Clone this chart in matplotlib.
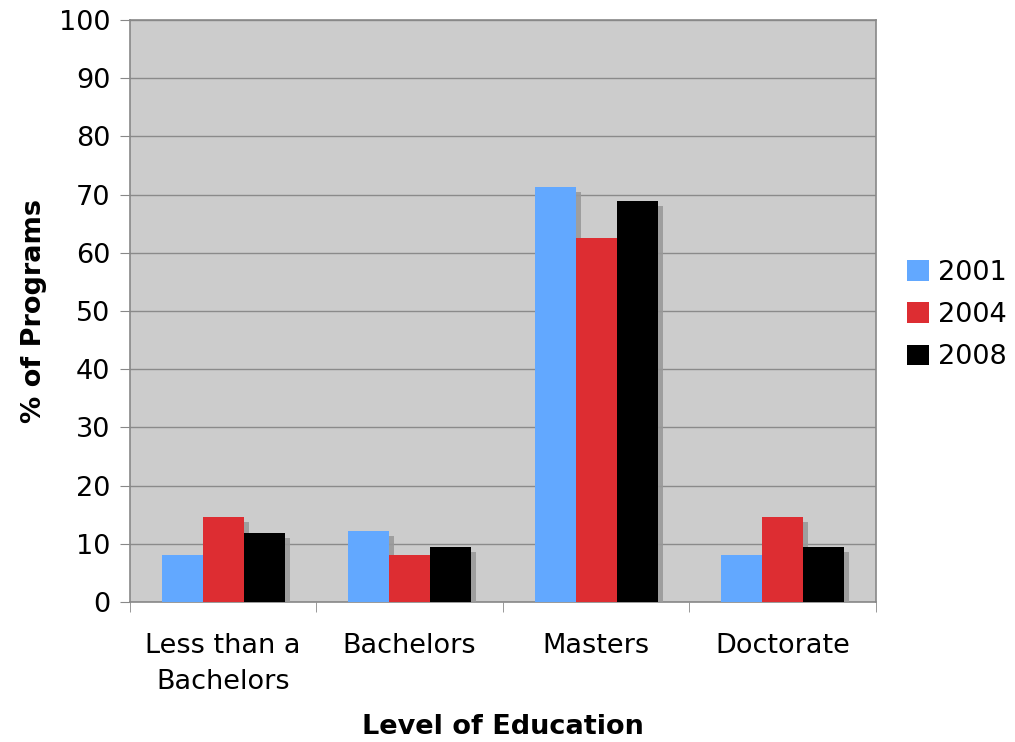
import matplotlib.pyplot as plt
import matplotlib.patheffects as pe
from matplotlib.patches import Patch
import numpy as np

categories = ["Less than a\nBachelors", "Bachelors", "Masters", "Doctorate"]
years = ["2001", "2004", "2008"]
vals_2001 = [8.1, 12.2, 71.3, 8.1]
vals_2004 = [14.6, 8.1, 62.5, 14.6]
vals_2008 = [11.9, 9.5, 68.9, 9.5]
colors = ["#62a8ff", "#dd2d32", "#000000"]

plt.rcParams["font.family"] = ["DejaVu Sans"]

fig = plt.figure(figsize=(10.15, 7.42), dpi=100)
ax = fig.add_axes([0.128, 0.1887, 0.735, 0.7843])
ax.set_facecolor("#cccccc")

x = np.arange(len(categories))
w = 0.22
shadow = [pe.SimplePatchShadow(offset=(3.6, -3.6), shadow_rgbFace="#999999", alpha=0.9), pe.Normal()]
for i, vals in enumerate([vals_2001, vals_2004, vals_2008]):
    ax.bar(x + (i - 1) * w, vals, w, color=colors[i], zorder=3, path_effects=shadow)

ax.set_xlim(-0.5, len(categories) - 0.5)
ax.set_ylim(0, 100)
ax.set_yticks(np.arange(0, 101, 10))
ax.set_xticks(x)
ax.set_xticklabels(categories, linespacing=1.5)
ax.set_xticks(np.arange(-0.5, len(categories), 1), minor=True)
ax.tick_params(axis="x", which="major", length=0, pad=22.5, labelsize=19.5)
ax.tick_params(axis="x", which="minor", length=7, color="#888888", direction="out")
ax.tick_params(axis="y", length=7, color="#888888", labelsize=19.5, pad=7)
ax.grid(axis="y", color="#8a8a8a", linewidth=1, zorder=0)
ax.set_axisbelow(True)
for s in ax.spines.values():
    s.set_color("#888888")
    s.set_linewidth(1.2)

ax.set_xlabel("Level of Education", fontsize=19.5, fontweight="bold", labelpad=13.5)
ax.set_ylabel("% of Programs", fontsize=19.5, fontweight="bold", labelpad=8.5)

handles = [Patch(facecolor=c, edgecolor="none") for c in colors]
ax.legend(handles, years, loc="center left", bbox_to_anchor=(1.027, 0.493), frameon=False,
          fontsize=19.5, handlelength=0.8, handleheight=0.8, handletextpad=0.35,
          labelspacing=0.6, borderaxespad=0)

fig.savefig("out.png", dpi=100)
